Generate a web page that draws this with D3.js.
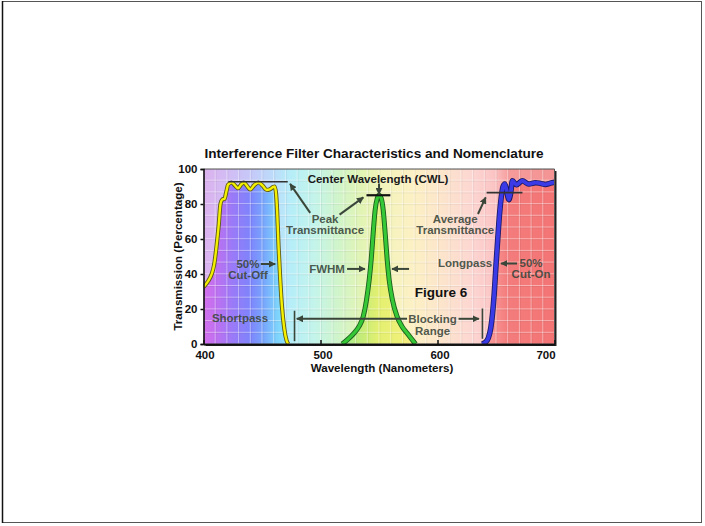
<!DOCTYPE html>
<html>
<head>
<meta charset="utf-8">
<script src="https://cdn.jsdelivr.net/npm/d3@7/dist/d3.min.js"></script>
<style>
  html, body { margin: 0; padding: 0; background: #fff; }
  svg { display: block; font-family: "Liberation Sans", Arial, Helvetica, sans-serif; }
</style>
</head>
<body>
<svg id="chart" width="705" height="526"></svg>
<script>
// ---- data -------------------------------------------------------------
const xTicks = [400, 500, 600, 700];
const yTicks = [0, 20, 40, 60, 80, 100];

// Shortpass filter transmission (wavelength nm, transmission %)
const shortpassNm = [400, 404, 407, 409, 411, 413, 414.5, 416, 418, 419.5, 421, 424, 427, 429.5, 432, 434.5, 437, 440, 443, 447, 450.5, 454, 456.5, 459, 460.8, 462, 463, 464.2, 465.5, 467, 469, 471, 472.5];
const shortpassT  = [32.5, 36, 40, 45, 55, 68, 80, 82.5, 83, 87, 91, 92.3, 90.5, 89, 91, 92.3, 90.5, 88.3, 90.5, 92.3, 90.5, 88, 88.3, 89.5, 90, 86, 75, 55, 38, 22, 9, 2, 0];

// Bandpass filter transmission
const bandpassNm = [518.5, 522.8, 528.5, 532.8, 536.5, 539.3, 541.6, 543.3, 545, 546.7, 548.5, 550, 551.9, 553.6, 555.3, 557, 558.7, 561.5, 565.5, 569.8, 574.1, 581.2];
const bandpassT  = [0, 2.3, 6.1, 9.9, 15.6, 25.1, 36.6, 48, 63.2, 76.6, 83.2, 85, 83.2, 76.6, 63.2, 48, 36.6, 25.1, 15.6, 9.9, 6.1, 0];

// Longpass filter transmission
const longpassNm = [638, 641, 643.5, 645.5, 647, 648.5, 650, 651.5, 653, 654.5, 656, 657.5, 659, 661, 662.5, 664, 667.5, 672.4, 678, 683.8, 688, 692.3, 696, 700, 705];
const longpassT  = [0, 1, 3.5, 9, 17, 29, 45, 60, 74, 84, 90, 91.5, 88, 82.5, 86, 93.3, 91, 93.3, 91.4, 92.2, 91.8, 91.2, 91.8, 92.4, 92.4];

const shortpass = shortpassNm.map((d, i) => [d, shortpassT[i]]);
const bandpass  = bandpassNm.map((d, i) => [d, bandpassT[i]]);
const longpass  = longpassNm.map((d, i) => [d, longpassT[i]]);

// spectrum colours used behind the curves
const paleStops = [
  [400, "#dcb2ee"], [420, "#d2bcf4"], [440, "#c6c8f8"], [460, "#bcdcfa"],
  [475, "#b6eef8"], [495, "#c4f4ea"], [515, "#d0f4ca"], [535, "#e2f4b4"],
  [555, "#f4f4bc"], [580, "#fcf0c4"], [605, "#fce4cc"], [630, "#fcd6d2"],
  [648, "#fbc4c4"], [662, "#f69a9a"], [700, "#f49494"]
];
const vividStops = [
  [400, "#d470ec"], [410, "#c070f0"], [425, "#9a7af8"], [440, "#7e84fc"],
  [452, "#78a8fc"], [462, "#7cd0fc"], [475, "#90ecfc"], [500, "#a8f0d8"],
  [520, "#a8ec98"], [535, "#c4ec78"], [550, "#e4f070"], [570, "#f0f078"],
  [590, "#fce0a0"], [620, "#fcc0b0"], [645, "#f89898"], [660, "#f47c7c"],
  [700, "#f47474"]
];

// ---- layout -----------------------------------------------------------
const svg = d3.select("#chart");
const x = d3.scaleLinear().domain([400, 700]).range([203.5, 554.5]);
const y = d3.scaleLinear().domain([0, 100]).range([344, 169]);
const [x0, x1] = x.range();
const [yb, yt] = y.range();

// page frame
svg.append("rect").attr("x", 2.5).attr("y", 1.5).attr("width", 699).attr("height", 521)
  .attr("fill", "#fff").attr("stroke", "#555").attr("stroke-width", 1);
svg.append("line").attr("x1", 2.5).attr("x2", 2.5).attr("y1", 1).attr("y2", 523)
  .attr("stroke", "#111").attr("stroke-width", 1.5);

const defs = svg.append("defs");
function spectrum(id, stops) {
  const g = defs.append("linearGradient").attr("id", id)
    .attr("gradientUnits", "userSpaceOnUse")
    .attr("x1", x0).attr("x2", x1).attr("y1", 0).attr("y2", 0);
  g.selectAll("stop").data(stops).join("stop")
    .attr("offset", d => (x(d[0]) - x0) / (x1 - x0))
    .attr("stop-color", d => d[1]);
}
spectrum("pale", paleStops);
spectrum("vivid", vividStops);

defs.append("clipPath").attr("id", "plotClip")
  .append("rect").attr("x", x0).attr("y", yt).attr("width", x1 - x0).attr("height", yb - yt);

defs.append("marker").attr("id", "arrow")
  .attr("viewBox", "0 0 10 10").attr("refX", 9).attr("refY", 5)
  .attr("markerWidth", 7).attr("markerHeight", 7).attr("markerUnits", "userSpaceOnUse")
  .attr("orient", "auto")
  .append("path").attr("d", "M0,0 L10,5 L0,10 Z").attr("fill", "#3a463a");

// plot shadow and background
svg.append("rect").attr("x", x0 + 2).attr("y", yt + 2).attr("width", x1 - x0).attr("height", yb - yt)
  .attr("fill", "#222");
svg.append("rect").attr("x", x0).attr("y", yt).attr("width", x1 - x0).attr("height", yb - yt)
  .attr("fill", "url(#pale)");

const plot = svg.append("g").attr("clip-path", "url(#plotClip)");

const area = d3.area().x(d => x(d[0])).y0(y(0)).y1(d => y(d[1])).curve(d3.curveMonotoneX);
const line = d3.line().x(d => x(d[0])).y(d => y(d[1])).curve(d3.curveMonotoneX);

[shortpass, bandpass, longpass].forEach(s => {
  plot.append("path").attr("d", area(s)).attr("fill", "url(#vivid)");
});

// square grid: a light line with a faint dark edge beside it
const cell = x(410) - x(400);
const gridX = d3.range(400, 701, 10);
const gridY = d3.range(yb, yt - 0.5, -cell);
const grid = plot.append("g");
[[0, "#fff", 0.42], [1, "#000", 0.05]].forEach(([off, col, op]) => {
  grid.append("g").selectAll("line").data(gridX).join("line")
    .attr("x1", d => x(d) + off).attr("x2", d => x(d) + off).attr("y1", yt).attr("y2", yb)
    .attr("stroke", col).attr("stroke-opacity", op).attr("stroke-width", 1);
  grid.append("g").selectAll("line").data(gridY).join("line")
    .attr("x1", x0).attr("x2", x1).attr("y1", d => d + off).attr("y2", d => d + off)
    .attr("stroke", col).attr("stroke-opacity", op).attr("stroke-width", 1);
});

// transmission curves: dark outline under a coloured stroke
const curves = [
  { data: shortpass, outer: "#5e5a18", inner: "#f4f000", wo: 4.2, wi: 2.4 },
  { data: bandpass,  outer: "#1d5e1d", inner: "#36c836", wo: 5,   wi: 3.2 },
  { data: longpass,  outer: "#1a1a66", inner: "#3a3ae6", wo: 5.5, wi: 3.8 }
];
curves.forEach(c => {
  plot.append("path").attr("d", line(c.data)).attr("fill", "none")
    .attr("stroke", c.outer).attr("stroke-width", c.wo).attr("stroke-linejoin", "round");
  plot.append("path").attr("d", line(c.data)).attr("fill", "none")
    .attr("stroke", c.inner).attr("stroke-width", c.wi).attr("stroke-linejoin", "round");
});

// plot border (top / right)
svg.append("path")
  .attr("d", `M${x0},${yt}H${x1}V${yb}`)
  .attr("fill", "none").attr("stroke", "#555").attr("stroke-width", 1);

// ---- annotations ------------------------------------------------------
const ink = "#3a463a";
const rules = [
  { a: [421.3, 92.7], b: [472, 92.7], w: 1.6, c: "#333" },
  { a: [539.3, 85],   b: [559.7, 85], w: 2.2, c: "#111" },
  { a: [642, 86.5],   b: [672.6, 86.5], w: 1.6, c: "#333" },
  { a: [477.8, 19],   b: [477.8, 1.6], w: 1.6, c: ink },
  { a: [638.4, 20.3], b: [638.4, 3],   w: 1.6, c: ink }
];
svg.append("g").selectAll("line").data(rules).join("line")
  .attr("x1", d => x(d.a[0])).attr("y1", d => y(d.a[1]))
  .attr("x2", d => x(d.b[0])).attr("y2", d => y(d.b[1]))
  .attr("stroke", d => d.c).attr("stroke-width", d => d.w);

const arrows = [
  [[550, 91.7], [550, 85.6]],
  [[491.2, 74.9], [474, 91.5]],
  [[516.3, 73.9], [536.6, 83.8]],
  [[634.6, 74.3], [641.2, 83.8]],
  [[449, 45.7], [461.3, 45.7]],
  [[522.7, 42.9], [538, 42.9]],
  [[575.7, 42.9], [561.1, 42.9]],
  [[668, 46], [654.3, 46]],
  [[574, 14.4], [479.7, 14.4]],
  [[618, 14.4], [635.4, 14.4]]
];
svg.append("g").selectAll("line").data(arrows).join("line")
  .attr("x1", d => x(d[0][0])).attr("y1", d => y(d[0][1]))
  .attr("x2", d => x(d[1][0])).attr("y2", d => y(d[1][1]))
  .attr("stroke", ink).attr("stroke-width", 2)
  .attr("marker-end", "url(#arrow)");

const notes = [
  { t: "Center Wavelength (CWL)", at: [549.2, 94.2], c: "#1a1a1a" },
  { t: "Peak", at: [503.9, 71.6] },
  { t: "Transmittance", at: [503.9, 65.1] },
  { t: "Average", at: [615.2, 71.6] },
  { t: "Transmittance", at: [615.2, 65.1] },
  { t: "50%", at: [438, 45.7] },
  { t: "Cut-Off", at: [438, 39.4] },
  { t: "FWHM", at: [505.6, 42.9] },
  { t: "Longpass", at: [623.6, 46.6] },
  { t: "50%", at: [680, 46.1] },
  { t: "Cut-On", at: [680, 39.8] },
  { t: "Shortpass", at: [431.2, 14.9] },
  { t: "Blocking", at: [595.8, 14.5] },
  { t: "Range", at: [595.8, 7.7] },
  { t: "Figure 6", at: [603, 29.4], c: "#111", s: 13.5 }
];
svg.append("g").selectAll("text").data(notes).join("text")
  .attr("x", d => x(d.at[0])).attr("y", d => y(d.at[1]))
  .attr("dy", "0.36em").attr("text-anchor", "middle")
  .attr("font-size", d => d.s || 11.5).attr("font-weight", "bold")
  .attr("fill", d => d.c || ink).attr("fill-opacity", d => d.c ? 1 : 0.9)
  .text(d => d.t);

// ---- axes -------------------------------------------------------------
const yAxis = svg.append("g").attr("transform", `translate(${x0},0)`)
  .call(d3.axisLeft(y).tickValues(yTicks).tickSize(3).tickPadding(3));
const xAxis = svg.append("g").attr("transform", `translate(0,${yb})`)
  .call(d3.axisBottom(x).tickValues(xTicks).tickSizeInner(-4).tickSizeOuter(0).tickPadding(7));

[yAxis, xAxis].forEach(a => {
  a.selectAll("text").attr("font-family", "Liberation Sans, Arial, sans-serif")
    .attr("font-size", 11.5).attr("font-weight", "bold").attr("fill", "#111");
  a.selectAll("line").attr("stroke", "#111").attr("stroke-width", 1.5);
});
yAxis.select(".domain").attr("stroke", "#111").attr("stroke-width", 1.6);
xAxis.select(".domain").attr("stroke", "#111").attr("stroke-width", 2.2);
xAxis.selectAll(".tick text").attr("dx", d => d === 700 ? -9 : (d === 400 ? 1 : 2));

svg.append("text").attr("x", (x0 + x1) / 2 + 3).attr("y", 372)
  .attr("text-anchor", "middle").attr("font-size", 11.6).attr("font-weight", "bold").attr("fill", "#111")
  .text("Wavelength (Nanometers)");

svg.append("text").attr("transform", `translate(181.5,${(yt + yb) / 2}) rotate(-90)`)
  .attr("text-anchor", "middle").attr("font-size", 11.6).attr("font-weight", "bold").attr("fill", "#111")
  .text("Transmission (Percentage)");

svg.append("text").attr("x", 374).attr("y", 157.5)
  .attr("text-anchor", "middle").attr("font-size", 13.6).attr("font-weight", "bold").attr("fill", "#111")
  .text("Interference Filter Characteristics and Nomenclature");
</script>
</body>
</html>
